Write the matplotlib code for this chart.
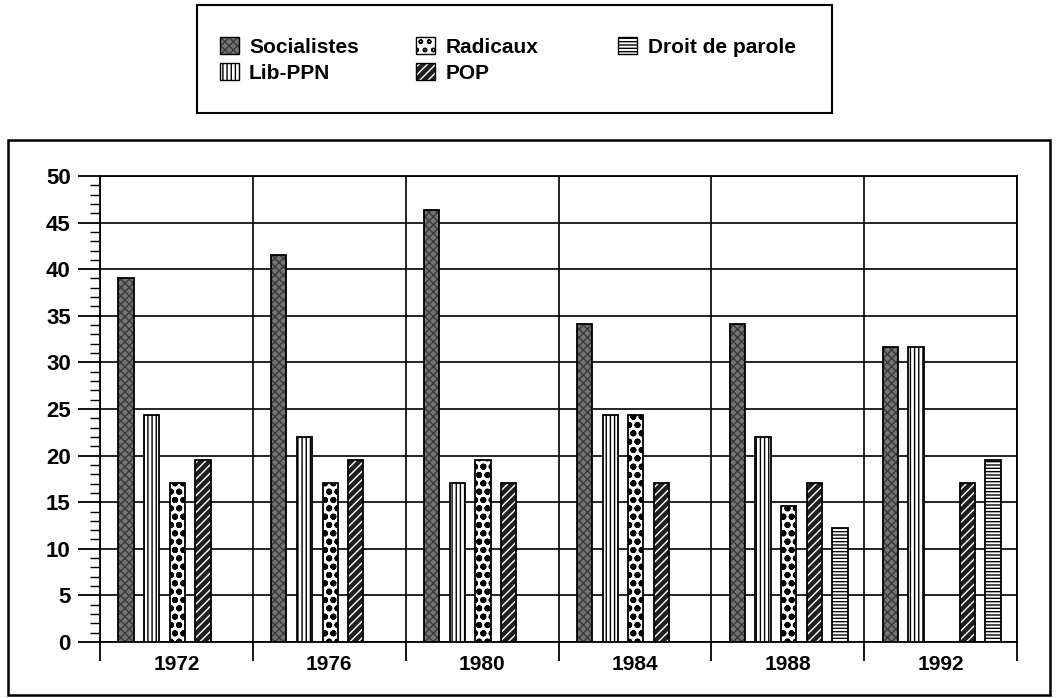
import numpy as np
import matplotlib
matplotlib.use('Agg')
import matplotlib.pyplot as plt
from matplotlib.patches import Patch, Rectangle

plt.rcParams['font.family'] = ['Liberation Sans', 'DejaVu Sans']
plt.rcParams['hatch.linewidth'] = 1.0

years = ['1972', '1976', '1980', '1984', '1988', '1992']
parties = ['Socialistes', 'Lib-PPN', 'Radicaux', 'POP', 'Droit de parole']

# share of seats (%) per election
socialistes = [39.0, 41.5, 46.3, 34.1, 34.1, 31.7]
lib_ppn = [24.4, 22.0, 17.1, 24.4, 22.0, 31.7]
radicaux = [17.1, 17.1, 19.5, 24.4, 14.6, 0.0]
pop = [19.5, 19.5, 17.1, 17.1, 17.1, 17.1]
droit = [0.0, 0.0, 0.0, 0.0, 12.2, 19.5]
series = [socialistes, lib_ppn, radicaux, pop, droit]

# fill style per party: face, hatch, hatch colour, hatch width
styles = [
    ('#747474', 'xxxx', '#3a3a3a', 1.0),
    ('white', '||||', 'black', 1.0),
    ('white', 'oo', 'black', 2.0),
    ('#1e1e1e', '////', 'white', 1.0),
    ('white', '-----', 'black', 1.0),
]

fig = plt.figure(figsize=(10.57, 6.98), dpi=100)
ax = fig.add_axes([0.0946, 0.0802, 0.8676, 0.6677])

x = np.arange(len(years))
width = 0.1
for j, vals in enumerate(series):
    face, hatch, hcol, hlw = styles[j]
    pos = x + 0.17 + j * 0.168
    vals = np.array(vals)
    keep = vals > 0
    with plt.rc_context({'hatch.linewidth': hlw}):
        ax.bar(pos[keep], vals[keep], width=width, align='center', color=face,
               edgecolor=hcol, hatch=hatch, linewidth=0, zorder=3)
    ax.bar(pos[keep], vals[keep], width=width, align='center', fill=False,
           edgecolor='black', linewidth=1.3, zorder=4)

ax.set_xlim(0, 6)
ax.set_ylim(0, 50)
ax.set_yticks(np.arange(0, 51, 5))
ax.set_yticks(np.arange(0, 51, 1), minor=True)
ax.set_xticks(np.arange(0, 7))
ax.set_xticklabels([])
ax.set_xticks(x + 0.5, minor=True)
ax.set_xticklabels(years, minor=True)
ax.tick_params(axis='y', which='major', direction='out', length=16, width=1.3,
               labelsize=16, pad=5)
ax.tick_params(axis='y', which='minor', direction='out', length=7, width=1.0)
ax.tick_params(axis='x', which='major', direction='out', length=14, width=1.3)
ax.tick_params(axis='x', which='minor', length=0, labelsize=15, pad=9)
for lab in ax.get_yticklabels() + ax.get_xticklabels(minor=True):
    lab.set_fontweight('bold')
ax.grid(True, which='major', color='black', linewidth=1.2, zorder=1)
ax.set_axisbelow(True)
for s in ax.spines.values():
    s.set_linewidth(1.3)

# outer frame around plot area
fig.patches.append(Rectangle((0.0076, 0.0043), 0.986, 0.795, transform=fig.transFigure,
                             fill=False, edgecolor='black', linewidth=1.8))
# legend frame
fig.patches.append(Rectangle((0.1864, 0.838), 0.6008, 0.1547, transform=fig.transFigure,
                             fill=False, edgecolor='black', linewidth=1.5))

handles = []
for face, hatch, hcol, hlw in styles:
    with plt.rc_context({'hatch.linewidth': hlw}):
        fill = Patch(facecolor=face, edgecolor=hcol, hatch=hatch, linewidth=0)
    handles.append((fill, Patch(fill=False, edgecolor='black', linewidth=1.0)))

# legend columns sit at fixed places in the box
col_x = [0.208, 0.394, 0.585]
groups = [[0, 1], [2, 3], [4]]
for cx, idx in zip(col_x, groups):
    fig.legend([handles[i] for i in idx], [parties[i] for i in idx],
               loc='upper left', bbox_to_anchor=(cx, 0.947), frameon=False,
               prop={'size': 15, 'weight': 'bold'}, handlelength=0.9,
               handleheight=0.9, handletextpad=0.5, labelspacing=0.3,
               borderpad=0, borderaxespad=0)

fig.savefig('out.png', dpi=100)
